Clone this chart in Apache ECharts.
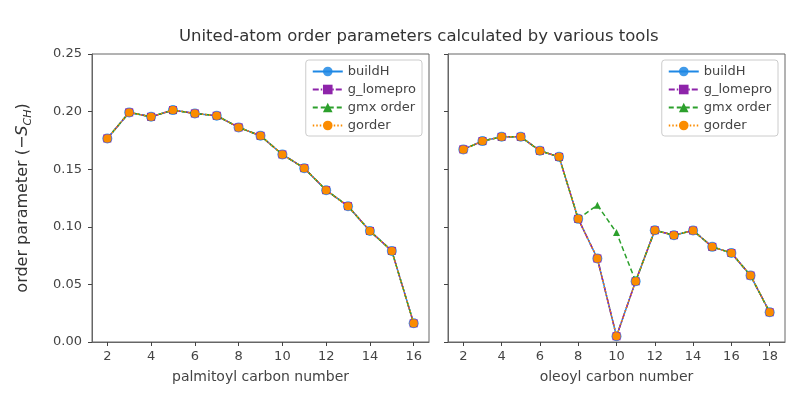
<!DOCTYPE html>
<html>
<head>
<meta charset="utf-8">
<script src="https://cdn.jsdelivr.net/npm/echarts@6/dist/echarts.min.js"></script>
<style>
  html, body { margin: 0; padding: 0; background: #fff; }
  #chart { width: 800px; height: 400px; }
</style>
</head>
<body>
<div id="chart"></div>
<script>
// palmitoyl chain (carbons 2..16)
var palmCarbons = [2, 3, 4, 5, 6, 7, 8, 9, 10, 11, 12, 13, 14, 15, 16]
var palmOrder = [0.1767, 0.1993, 0.1955, 0.2013, 0.1984, 0.1964, 0.1863, 0.1790, 0.1628, 0.1509, 0.1318, 0.1179, 0.0964, 0.0791, 0.0162]

// oleoyl chain (carbons 2..18)
var oleCarbons = [2, 3, 4, 5, 6, 7, 8, 9, 10, 11, 12, 13, 14, 15, 16, 17, 18]
var oleOrder = [0.1672, 0.1744, 0.1781, 0.1781, 0.1660, 0.1607, 0.1069, 0.0725, 0.0050, 0.0527, 0.0970, 0.0927, 0.0968, 0.0826, 0.0773, 0.0577, 0.0258]
var oleOrderGmx = [0.1672, 0.1744, 0.1781, 0.1781, 0.1660, 0.1607, 0.1069, 0.1188, 0.0950, 0.0527, 0.0970, 0.0927, 0.0968, 0.0826, 0.0773, 0.0577, 0.0258]

var palmTicks = [2, 4, 6, 8, 10, 12, 14, 16]
var oleTicks = [2, 4, 6, 8, 10, 12, 14, 16, 18]

var font = 'DejaVu Sans'
var textColor = '#444'

function pairs(xs, ys) {
  return xs.map(function (x, i) { return [x, ys[i]] })
}

// one entry per tool: colour, marker, line dash
var tools = [
  { name: 'buildH', color: '#1E88E5', symbol: 'circle', size: 10, type: 'solid', opacity: 0.85 },
  { name: 'g_lomepro', color: '#8E24AA', symbol: 'rect', size: 8, type: [6, 2, 1.5, 2], opacity: 1 },
  { name: 'gmx order', color: '#2CA02C', symbol: 'triangle', size: 7, type: [5, 3], opacity: 1 },
  { name: 'gorder', color: '#FB8C00', symbol: 'circle', size: 8, type: [1.5, 2], opacity: 1 }
]

function makeSeries(idx, data) {
  return tools.map(function (t, k) {
    return {
      name: t.name,
      type: 'line',
      xAxisIndex: idx,
      yAxisIndex: idx,
      data: data[k],
      symbol: t.symbol,
      symbolSize: t.size,
      z: 2 + k,
      itemStyle: { color: t.color, opacity: t.opacity },
      lineStyle: { color: t.color, width: 1.5, type: t.type },
      animation: false
    }
  })
}

var palmData = pairs(palmCarbons, palmOrder)
var oleData = pairs(oleCarbons, oleOrder)
var oleGmxData = pairs(oleCarbons, oleOrderGmx)

var series = makeSeries(0, [palmData, palmData, palmData, palmData])
  .concat(makeSeries(1, [oleData, oleData, oleGmxData, oleData]))

function xAxis(idx, min, max, ticks, name) {
  return {
    type: 'value',
    gridIndex: idx,
    min: min,
    max: max,
    name: name,
    nameLocation: 'middle',
    nameGap: 28,
    nameTextStyle: { fontFamily: font, fontSize: 14, color: textColor },
    splitLine: { show: false },
    axisLine: { show: true, onZero: false, lineStyle: { color: '#666' } },
    axisTick: { show: true, customValues: ticks, length: 4, lineStyle: { color: '#444' } },
    axisLabel: { customValues: ticks, fontFamily: font, fontSize: 13, color: textColor, margin: 8 }
  }
}

function yAxis(idx, showLabels) {
  var ax = {
    type: 'value',
    gridIndex: idx,
    min: 0,
    max: 0.25,
    interval: 0.05,
    splitLine: { show: false },
    axisLine: { show: true, lineStyle: { color: '#666' } },
    axisTick: { show: true, length: 4, lineStyle: { color: '#444' } },
    axisLabel: {
      show: showLabels,
      fontFamily: font, fontSize: 13, color: textColor, margin: 10,
      formatter: function (v) { return v.toFixed(2) }
    }
  }
  if (showLabels) {
    ax.name = 'order parameter (\u2212{i|S}{sub|CH})'
    ax.nameLocation = 'middle'
    ax.nameGap = 58
    ax.nameTextStyle = {
      fontFamily: font, fontSize: 16, color: '#333', lineHeight: 22,
      rich: {
        i: { fontFamily: font, fontSize: 16, fontStyle: 'italic', color: '#333', lineHeight: 22, verticalAlign: 'middle' },
        sub: { fontFamily: font, fontSize: 11, fontStyle: 'italic', color: '#333', lineHeight: 22, verticalAlign: 'bottom' }
      }
    }
  }
  return ax
}

function legend(right) {
  return {
    orient: 'vertical',
    right: right,
    top: 60,
    padding: [5, 6, 4, 6],
    itemGap: 5,
    itemWidth: 30,
    itemHeight: 12,
    borderColor: '#ccc',
    borderWidth: 1,
    borderRadius: 3,
    backgroundColor: 'rgba(255,255,255,0.8)',
    textStyle: { fontFamily: font, fontSize: 13, color: textColor },
    data: tools.map(function (t) { return t.name })
  }
}

var chart = echarts.init(document.getElementById('chart'), null, { renderer: 'canvas' })
chart.setOption({
  animation: false,
  title: {
    text: 'United-atom order parameters calculated by various tools',
    left: 174,
    top: 23,
    textStyle: { fontFamily: font, fontSize: 16.5, fontWeight: 'normal', color: '#333' }
  },
  grid: [
    { left: 92, right: 371, top: 54, bottom: 58, show: true, borderColor: '#666', borderWidth: 1 },
    { left: 448, right: 15, top: 54, bottom: 58, show: true, borderColor: '#666', borderWidth: 1 }
  ],
  legend: [legend(378), legend(22)],
  xAxis: [
    xAxis(0, 1.3, 16.7, palmTicks, 'palmitoyl carbon number'),
    xAxis(1, 1.2, 18.8, oleTicks, 'oleoyl carbon number')
  ],
  yAxis: [yAxis(0, true), yAxis(1, false)],
  series: series
})
</script>
</body>
</html>
